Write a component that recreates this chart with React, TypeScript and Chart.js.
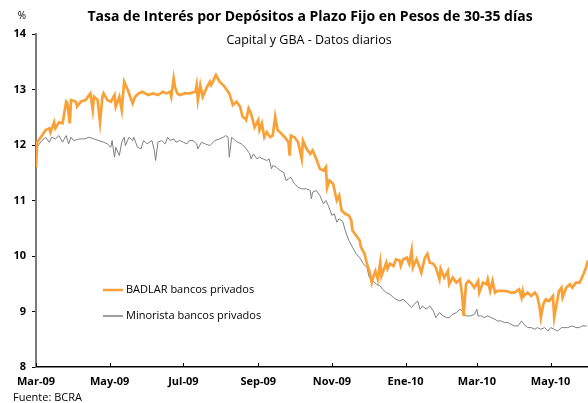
import React, { useEffect, useRef } from "react";
import { Chart, registerables } from "chart.js";

Chart.register(...registerables);

const TITLE = "Tasa de Interés por Depósitos a Plazo Fijo en Pesos de 30-35 días";
const SUBTITLE = "Capital y GBA - Datos diarios";
const SOURCE = "Fuente: BCRA";
const Y_UNIT = "%";

// x values: days since 1 Mar 2009
const tickDays = [0, 61, 122, 184, 245, 306, 365, 426];
const tickLabels = ["Mar-09", "May-09", "Jul-09", "Sep-09", "Nov-09", "Ene-10", "Mar-10", "May-10"];

const badlarLabel = "BADLAR bancos privados";
const badlarDays = [
  0, 1, 4, 8, 11, 12, 15, 16, 19, 22, 25, 26, 28, 29, 33, 34, 37, 41, 42, 45, 47, 48, 51, 53, 55, 56, 59, 62, 65, 66,
  69, 71, 73, 76, 78, 80, 82, 85, 88, 93, 97, 101, 105, 108, 111, 112, 114, 115, 117, 119, 123, 127, 132, 133, 134,
  136, 138, 141, 144, 145, 147, 149, 152, 155, 158, 160, 163, 166, 169, 170, 171, 173, 174, 176, 178, 181, 184, 185,
  187, 189, 191, 194, 196, 198, 200, 203, 206, 209, 210, 211, 214, 217, 220, 221, 224, 227, 229, 232, 235, 238, 240,
  241, 243, 246, 249, 251, 253, 256, 259, 261, 262, 265, 268, 269, 272, 274, 276, 278, 279, 281, 283, 285, 286, 289,
  290, 291, 293, 296, 298, 301, 302, 304, 307, 309, 311, 312, 315, 318, 319, 322, 324, 326, 329, 331, 334, 335, 338,
  341, 342, 345, 348, 351, 352, 353, 354, 356, 358, 360, 363, 366, 367, 370, 373, 374, 376, 378, 380, 382, 387, 391,
  393, 396, 400, 402, 403, 404, 407, 410, 413, 415, 417, 418, 420, 422, 425, 428, 429, 431, 433, 435, 436, 439, 442,
  444, 447, 450, 452, 455, 457,
];
const badlarValues = [
  11.6, 12.05, 12.14, 12.27, 12.3, 12.23, 12.41, 12.3, 12.41, 12.39, 12.78, 12.75, 12.39, 12.81, 12.78, 12.69, 12.78,
  12.81, 12.84, 12.93, 12.63, 12.87, 12.81, 12.41, 12.87, 12.93, 12.81, 12.78, 12.9, 12.69,
  12.87, 12.63, 13.14, 12.99, 12.87, 12.75, 12.87, 12.93, 12.96, 12.9, 12.93, 12.9, 12.96, 12.93, 12.96, 12.87, 13.2,
  13.05, 12.93, 12.9, 12.93, 12.93, 12.96, 13.08, 12.81,
  13.08, 12.87, 13.02, 13.14, 13.08, 13.17, 13.26, 13.14, 13.08, 12.99, 12.93, 12.72, 12.78, 12.69, 12.6, 12.51, 12.48,
  12.45, 12.66, 12.57, 12.32, 12.45, 12.27,
  12.39, 12.14, 12.23, 12.14, 12.17, 12.51, 12.27, 12.21, 12.14, 12.05, 11.81, 12.17, 12.14, 12.05, 11.75, 12.08, 11.93,
  11.84, 11.9, 11.75, 11.57, 11.54, 11.6,
  11.23, 11.36, 11.3, 11.0, 11.09, 10.82, 10.76, 10.73, 10.64, 10.46, 10.37, 10.28, 10.16, 10.04, 9.86, 9.73, 9.52, 9.61,
  9.73, 9.58, 9.88, 9.64, 9.82,
  9.88, 9.77, 9.86, 9.82, 9.94, 9.92, 9.82, 9.94, 9.97, 9.86, 10.1, 9.79, 9.94, 9.77, 9.7, 9.97, 10.04, 9.88, 9.86, 9.79,
  9.58, 9.77, 9.61,
  9.73, 9.49, 9.61, 9.52, 9.58, 9.43, 9.25, 8.92, 9.49, 9.55, 9.52, 9.43, 9.55, 9.34, 9.52, 9.49, 9.58, 9.37, 9.55, 9.34,
  9.37, 9.37, 9.36,
  9.34, 9.34, 9.4, 9.25, 9.37, 9.28, 9.34, 9.28, 9.34, 9.28, 9.07, 8.89, 9.13, 9.22, 9.19, 9.28, 8.89, 9.13, 9.37, 9.43,
  9.25, 9.43, 9.49,
  9.43, 9.52, 9.52, 9.61, 9.77, 9.92,
];

const minoristaLabel = "Minorista bancos privados";
const minoristaDays = [
  0, 2, 5, 8, 11, 13, 16, 19, 22, 25, 27, 29, 31, 36, 40, 44, 48, 52, 56, 59, 62, 63, 65, 66, 69, 71, 73, 74, 77, 80,
  81, 84, 87, 89, 92, 96, 98, 99, 101, 104, 107, 109, 111, 114, 116, 119, 122, 125, 127, 130, 133, 134, 137, 140, 144,
  148, 152, 155, 157, 159, 160, 162, 165, 167, 170, 173, 176, 177, 178, 180, 183, 185, 188, 191, 193, 195, 196, 199,
  202, 205, 207, 209, 211, 214, 217, 220, 224, 227, 228, 229, 232, 235, 238, 240, 242, 245, 247, 249, 251, 254, 256,
  259, 262, 265, 268, 271, 274, 276, 279, 282, 285, 287, 290, 293, 296, 298, 301, 304, 307, 311, 313, 316, 318, 320,
  323, 326, 329, 331, 334, 337, 340, 342, 345, 348, 351, 353, 356, 360, 363, 365, 366, 369, 371, 374, 377, 380, 382,
  385, 388, 391, 393, 396, 399, 402, 404, 407, 410, 413, 415, 418, 421, 424, 426, 429, 432, 435, 437, 440, 444, 447,
  450, 452, 456,
];
const minoristaValues = [
  11.92, 12.0, 12.08, 12.14, 12.05, 12.14, 12.11, 12.17, 12.05, 12.17, 12.02, 12.14, 12.08, 12.11, 12.11, 12.14, 12.11,
  12.08, 12.05, 12.02, 11.96, 12.08, 11.78, 11.96, 11.81, 12.05, 12.14, 11.99, 12.14, 12.08,
  12.14, 11.96, 11.93, 12.08, 12.02, 12.08, 11.9, 11.72, 12.05, 12.08, 12.02, 12.14, 12.08, 12.11, 12.05, 12.08, 12.05,
  12.02, 12.08, 12.08, 12.02, 11.93, 12.05, 12.02, 11.99,
  12.08, 12.11, 12.14, 12.17, 12.14, 11.78, 12.14, 12.08, 12.05, 12.02, 11.96, 11.87, 11.84, 11.75, 11.84, 11.75, 11.78,
  11.75, 11.72, 11.75, 11.57, 11.63, 11.6,
  11.54, 11.51, 11.36, 11.39, 11.42, 11.3, 11.24, 11.21, 11.21, 11.18, 11.03, 11.15, 11.18, 11.09, 10.94, 11.0, 10.91,
  10.73, 10.76, 10.61, 10.67, 10.62, 10.46,
  10.28, 10.16, 10.04, 9.97, 9.86, 9.79, 9.61, 9.55, 9.49, 9.46, 9.4, 9.34, 9.31, 9.25, 9.22, 9.19, 9.22, 9.16, 9.07,
  9.13, 9.19, 9.04,
  9.1, 9.04, 9.1, 9.01, 8.89, 8.98, 8.92, 8.89, 8.89, 8.95, 8.98, 9.04, 9.01, 8.92, 8.92, 8.95, 9.04, 8.92, 8.92, 8.89,
  8.92, 8.89, 8.86, 8.83,
  8.83, 8.8, 8.8, 8.77, 8.74, 8.74, 8.83, 8.77, 8.71, 8.71, 8.68, 8.71, 8.68, 8.71, 8.65, 8.71, 8.68, 8.65, 8.71, 8.71,
  8.71, 8.74, 8.71,
  8.71, 8.74, 8.74,
];

const yMin = 8;
const yMax = 14;
const xMax = 457;

const FONT = "'Open Sans', 'Noto Sans', sans-serif";
const ORANGE = "#F9A137";
const GREY = "#7f7f7f";

const decorPlugin = {
  id: "decor",
  afterDraw(chart: any) {
    const ctx = chart.ctx;
    const area = chart.chartArea;
    const xs = chart.scales.x;
    ctx.save();
    // x-axis inward tick marks
    ctx.strokeStyle = "#000";
    ctx.lineWidth = 1;
    xs.ticks.forEach((t: any) => {
      const px = Math.round(xs.getPixelForValue(t.value)) + 0.5;
      ctx.beginPath();
      ctx.moveTo(px, area.bottom - 4);
      ctx.lineTo(px, area.bottom);
      ctx.stroke();
    });
    // titles
    ctx.fillStyle = "#000";
    ctx.textAlign = "center";
    ctx.textBaseline = "middle";
    ctx.font = `bold 14px ${FONT}`;
    ctx.fillText(TITLE, 310, 17);
    ctx.font = `12.5px ${FONT}`;
    ctx.fillText(SUBTITLE, 309, 40);
    ctx.font = `10px ${FONT}`;
    ctx.fillText(Y_UNIT, 22, 16);
    ctx.textAlign = "left";
    ctx.font = `11px ${FONT}`;
    ctx.fillText(SOURCE, 13, 398);
    // legend
    const items = chart.data.datasets;
    items.forEach((ds: any, i: number) => {
      const y = 290 + i * 26;
      ctx.strokeStyle = ds.borderColor;
      ctx.lineWidth = i === 0 ? 2.5 : 1.5;
      ctx.beginPath();
      ctx.moveTo(103, y);
      ctx.lineTo(123, y);
      ctx.stroke();
      ctx.fillStyle = "#000";
      ctx.font = `11px ${FONT}`;
      ctx.textAlign = "left";
      ctx.fillText(ds.label, 126, y);
    });
    ctx.restore();
  },
};

export default function App() {
  const ref = useRef<HTMLCanvasElement | null>(null);
  useEffect(() => {
    if (!ref.current) return;
    const chart = new Chart(ref.current, {
      type: "line",
      data: {
        datasets: [
          {
            label: badlarLabel,
            data: badlarDays.map((d, i) => ({ x: d, y: badlarValues[i] })),
            borderColor: ORANGE,
            borderWidth: 2.7,
            pointRadius: 0,
            tension: 0,
          },
          {
            label: minoristaLabel,
            data: minoristaDays.map((d, i) => ({ x: d, y: minoristaValues[i] })),
            borderColor: GREY,
            borderWidth: 1,
            pointRadius: 0,
            tension: 0,
          },
        ],
      },
      options: {
        animation: false,
        responsive: false,
        devicePixelRatio: 1,
        layout: { padding: { top: 34, right: 0, left: 0, bottom: 0 } },
        plugins: { legend: { display: false }, tooltip: { enabled: false }, title: { display: false } },
        scales: {
          x: {
            type: "linear",
            min: 0,
            max: xMax,
            afterBuildTicks: (scale: any) => {
              scale.ticks = tickDays.map((v) => ({ value: v }));
            },
            afterFit: (scale: any) => {
              scale.height = 36;
            },
            ticks: {
              autoSkip: false,
              maxRotation: 0,
              color: "#000",
              font: { family: FONT, size: 11, weight: "bold" },
              padding: 8,
              callback: (v: any) => {
                const i = tickDays.indexOf(Number(v));
                return i >= 0 ? tickLabels[i] : "";
              },
            },
            grid: { drawOnChartArea: false, drawTicks: false },
            border: { display: true, color: "#000", width: 1.5 },
          },
          y: {
            min: yMin,
            max: yMax,
            afterFit: (scale: any) => {
              scale.width = 36;
            },
            ticks: {
              stepSize: 1,
              color: "#000",
              font: { family: FONT, size: 11, weight: "bold" },
              padding: 6,
            },
            grid: { drawOnChartArea: false, drawTicks: true, tickLength: 4, color: "#000" },
            border: { display: true, color: "#7a7a7a", width: 2 },
          },
        },
      },
      plugins: [decorPlugin],
    });
    return () => chart.destroy();
  }, []);
  return (
    <div style={{ position: "fixed", left: 0, top: 0, width: 588, height: 403, background: "#fff" }}>
      <canvas ref={ref} width={588} height={403} style={{ display: "block" }} />
    </div>
  );
}
